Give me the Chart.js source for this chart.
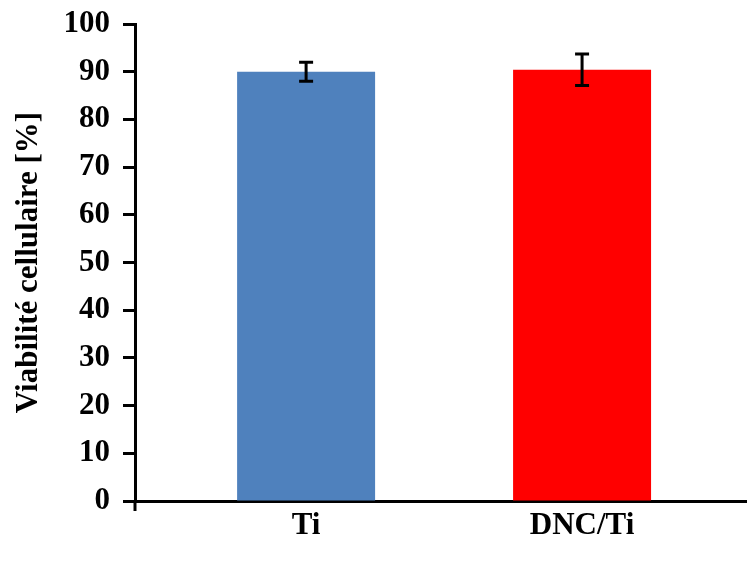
<!DOCTYPE html>
<html>
<head>
<meta charset="utf-8">
<script src="https://cdn.jsdelivr.net/npm/chart.js@4/dist/chart.umd.min.js"></script>
<style>
  html, body { margin: 0; padding: 0; background: #fff; }
  #wrap { width: 748px; height: 565px; }
</style>
</head>
<body>
<div id="wrap"><canvas id="c" width="748" height="565"></canvas></div>
<script>
const categories = ['Ti', 'DNC/Ti'];
const viability  = [90.0, 90.4];
const errors     = [2.0, 3.3];
const barColors  = ['#4f81bd', '#ff0000'];
const yTicks     = [0, 10, 20, 30, 40, 50, 60, 70, 80, 90, 100];

const FONT = '"Liberation Serif", "Times New Roman", serif';

// error bars drawn through the scales
const errorBarPlugin = {
  id: 'errorBars',
  afterDatasetsDraw(chart) {
    const ctx = chart.ctx;
    const xs = chart.scales.x, ys = chart.scales.y;
    ctx.save();
    ctx.strokeStyle = '#000';
    ctx.lineWidth = 3;
    viability.forEach((v, i) => {
      const x = xs.getPixelForValue(i);
      const top = ys.getPixelForValue(v + errors[i]);
      const bot = ys.getPixelForValue(v - errors[i]);
      ctx.beginPath();
      ctx.moveTo(x, top); ctx.lineTo(x, bot);
      ctx.moveTo(x - 7, top); ctx.lineTo(x + 7, top);
      ctx.moveTo(x - 7, bot); ctx.lineTo(x + 7, bot);
      ctx.stroke();
    });
    // y axis line runs a little below the x axis, as in the original
    const x0 = chart.chartArea.left, y0 = chart.chartArea.bottom;
    ctx.beginPath();
    ctx.moveTo(x0, y0);
    ctx.lineTo(x0, y0 + 10);
    ctx.stroke();
    ctx.restore();
  }
};

new Chart(document.getElementById('c').getContext('2d'), {
  type: 'bar',
  data: {
    datasets: [{
      data: viability.map((v, i) => ({ x: i, y: v })),
      backgroundColor: barColors,
      borderWidth: 0,
      barPercentage: 0.5,
      categoryPercentage: 1
    }]
  },
  plugins: [errorBarPlugin],
  options: {
    responsive: false,
    animation: false,
    layout: { padding: { top: 24, right: 2, left: 0, bottom: 0 } },
    plugins: { legend: { display: false }, tooltip: { enabled: false } },
    scales: {
      x: {
        type: 'linear',
        offset: false,
        min: -0.62,
        max: 1.594,
        afterBuildTicks: (axis) => { axis.ticks = categories.map((c, i) => ({ value: i })); },
        afterFit: (axis) => { axis.height = 64; axis.paddingLeft = 0; axis.paddingRight = 0; },
        grid: { display: false },
        border: { color: '#000', width: 3 },
        ticks: {
          color: '#000',
          font: { family: FONT, size: 31, weight: 'bold' },
          padding: -2,
          maxRotation: 0,
          callback: (v) => categories[v]
        }
      },
      y: {
        min: 0,
        max: 100,
        afterBuildTicks: (axis) => { axis.ticks = yTicks.map(v => ({ value: v })); },
        afterFit: (axis) => { axis.width = 135; axis.paddingTop = 0; axis.paddingBottom = 0; },
        grid: { drawOnChartArea: false, tickLength: 12, tickColor: '#000', tickWidth: 3 },
        border: { color: '#000', width: 3 },
        ticks: {
          color: '#000',
          font: { family: FONT, size: 31, weight: 'bold' },
          padding: 13
        },
        title: {
          display: true,
          text: 'Viabilité cellulaire [%]',
          color: '#000',
          font: { family: FONT, size: 31, weight: 'bold' },
          padding: { top: 10, bottom: 7 }
        }
      }
    }
  }
});
</script>
</body>
</html>
